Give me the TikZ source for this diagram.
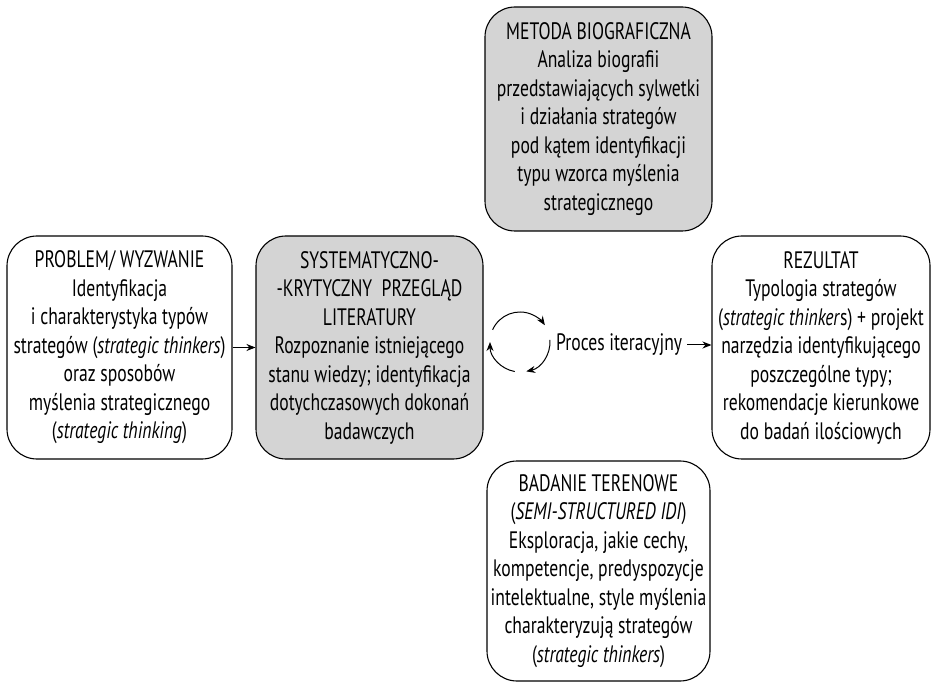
\documentclass[tikz,border=0pt]{standalone}
\usepackage{fontspec}
\setmainfont[FakeStretch=0.74]{PT Sans}
\usepackage{tikz}
\usetikzlibrary{arrows.meta}
\definecolor{boxgray}{gray}{0.83}

\begin{document}
\begin{tikzpicture}[x=1pt,y=1pt,
	box/.style={draw, line width=1.1pt, rounded corners=30pt, align=center,
		inner sep=0pt, minimum height=223pt,
		font=\fontsize{23.8}{28.5}\selectfont},
	grey box/.style={box, fill=boxgray},
	link/.style={-{Stealth[length=9pt, width=7pt]}, line width=1pt}]
	\useasboundingbox (0,0) rectangle (934,686);
	
	\node[box, minimum width=225pt] (problem) at (119.5,338.5) {PROBLEM/ WYZWANIE\\Identyfikacja\\i charakterystyka typów\\strategów (\textit{strategic thinkers})\\oraz sposobów\\myślenia strategicznego\\(\textit{strategic thinking})};
	\node[grey box, minimum width=227pt] (przeglad) at (369.5,338.5) {SYSTEMATYCZNO-\\-KRYTYCZNY\ \ PRZEGLĄD\\LITERATURY\\Rozpoznanie istniejącego\\stanu wiedzy; identyfikacja\\dotychczasowych dokonań\\badawczych};
	\node[grey box, minimum width=227pt, minimum height=224pt] (metoda) at (598.5,567) {METODA BIOGRAFICZNA\\Analiza biografii\\przedstawiających sylwetki\\i działania strategów\\pod kątem identyfikacji\\typu wzorca myślenia\\strategicznego};
	\node[box, minimum width=218pt] (rezultat) at (821,338.5) {REZULTAT\\Typologia strategów\\(\textit{strategic thinker}s) + projekt\\narzędzia identyfikującego\\poszczególne typy;\\rekomendacje kierunkowe\\do badań ilościowych};
	\node[box, minimum width=223pt, minimum height=220pt] (badanie) at (598.5,115) {BADANIE TERENOWE\\(\textit{SEMI-STRUCTURED IDI})\\Eksploracja, jakie cechy,\\kompetencje, predyspozycje\\intelektualne, style myślenia\\charakteryzują strategów\\(\textit{strategic thinkers})};
	
	\node[font=\fontsize{23.8}{28.5}\selectfont, inner sep=5pt, anchor=west] (iter) at (551,341) {Proces iteracyjny};
	\coordinate (cykl) at (520,344);
	
	\draw[link] (problem) -- (przeglad);
	\draw[link] (iter.east) -- (iter.east -| rezultat.west);
	
	\draw[link] (cykl) ++(156:30pt) arc[start angle=156, end angle=34, radius=30pt];
	\draw[link] (cykl) ++(4:30pt) arc[start angle=4, end angle=-78, radius=30pt];
	\draw[link] (cykl) ++(-100:30pt) arc[start angle=-100, end angle=-180, radius=30pt];
\end{tikzpicture}
\end{document}
